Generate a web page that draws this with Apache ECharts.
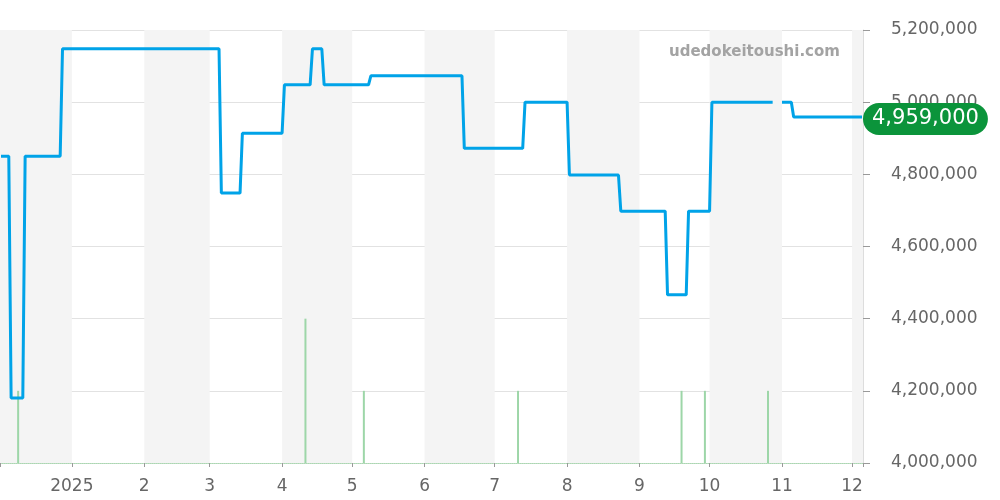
<!DOCTYPE html>
<html>
<head>
<meta charset="utf-8">
<script src="https://cdn.jsdelivr.net/npm/echarts@6/dist/echarts.min.js"></script>
<style>html,body{margin:0;padding:0;background:#fff;}#c{width:1000px;height:500px;}</style>
</head>
<body>
<div id="c"></div>
<script>
// Price line: change points [date, price]; '-' marks a gap in the data
const priceDates = [
  '2024-12-01 16:00:00','2024-12-05','2024-12-06','2024-12-11','2024-12-12','2024-12-27','2024-12-28',
  '2025-03-05','2025-03-06','2025-03-14','2025-03-15','2025-04-01','2025-04-02',
  '2025-04-13','2025-04-14','2025-04-18','2025-04-19','2025-05-08','2025-05-09',
  '2025-06-17','2025-06-18','2025-07-13','2025-07-14','2025-08-01','2025-08-02',
  '2025-08-23','2025-08-24','2025-09-12','2025-09-13','2025-09-21','2025-09-22',
  '2025-10-01','2025-10-02','2025-10-28','2025-10-30','2025-11-01','2025-11-05','2025-11-06','2025-12-05 06:00:00'
];
const priceValues = [
  4850000,4850000,4180000,4180000,4850000,4850000,5148000,
  5148000,4748000,4748000,4914000,4914000,5048000,
  5048000,5148000,5148000,5048000,5048000,5073000,
  5073000,4872000,4872000,5000000,5000000,4798000,
  4798000,4698000,4698000,4466000,4466000,4698000,
  4698000,5000000,5000000,'-',5000000,5000000,4959000,4959000
];
// Green bars (counts) at the bottom
const barDates = ['2024-12-09','2025-04-11','2025-05-06','2025-07-11','2025-09-19','2025-09-29','2025-10-26'];
const barCounts = [1,2,1,1,1,1,1];
const yTicks = [4000000,4200000,4400000,4600000,4800000,5000000,5200000];
const xMin = '2024-12-01 16:00:00';
const xMax = '2025-12-05 06:00:00';
const lastPrice = 4959000;
const watermark = 'udedokeitoushi.com';

const FONT = 'DejaVu Sans';
const chart = echarts.init(document.getElementById('c'), null, {renderer: 'canvas'});
const fmt = v => v.toLocaleString('en-US');

chart.setOption({
  animation: false,
  backgroundColor: '#fff',
  grid: {left: 0, right: 137, top: 30, bottom: 37, containLabel: false, outerBoundsMode: 'none'},
  xAxis: {
    type: 'time',
    min: xMin, max: xMax,
    splitNumber: 12,
    minInterval: 28 * 86400000,
    maxInterval: 31 * 86400000,
    axisLine: {show: true, lineStyle: {color: '#a9d8b0', type: 'dotted', width: 1}},
    axisTick: {show: true, length: 4, lineStyle: {color: '#999'}},
    axisLabel: {
      color: '#666', fontSize: 17, fontFamily: FONT, margin: 15,
      showMinLabel: true, showMaxLabel: true,
      formatter: function (val) {
        const d = new Date(val);
        if (d.getDate() !== 1 || d.getHours() !== 0) return '';
        return d.getMonth() === 0 ? String(d.getFullYear()) : String(d.getMonth() + 1);
      }
    },
    splitLine: {show: false},
    splitArea: {show: true, areaStyle: {color: ['#f4f4f4', 'rgba(255,255,255,0)']}}
  },
  yAxis: [{
    type: 'value',
    position: 'right',
    min: yTicks[0], max: yTicks[yTicks.length - 1], interval: 200000,
    axisLine: {show: true, lineStyle: {color: '#ddd'}},
    axisTick: {show: true, length: 7, lineStyle: {color: '#999'}},
    axisLabel: {color: '#666', fontSize: 17, fontFamily: FONT, margin: 28, padding: [3, 0, 0, 0], formatter: fmt},
    splitLine: {show: true, lineStyle: {color: '#e2e2e2'}}
  }, {
    type: 'value', min: 0, max: 6, show: false,
    axisLine: {show: false}, splitLine: {show: false}, axisLabel: {show: false}
  }],
  series: [{
    type: 'bar',
    yAxisIndex: 1,
    data: barDates.map((d, i) => [d, barCounts[i]]),
    barWidth: 2,
    itemStyle: {color: '#9dd6a8'},
    silent: true,
    z: 1
  }, {
    type: 'line',
    clip: false,
    data: priceDates.map((d, i) => [d, priceValues[i]]),
    showSymbol: false,
    connectNulls: false,
    lineStyle: {color: '#00a3e8', width: 3},
    itemStyle: {color: '#00a3e8'},
    z: 3,
    markLine: {
      silent: true,
      symbol: ['none', 'none'],
      lineStyle: {color: 'rgba(0,0,0,0)', width: 0, type: 'solid'},
      emphasis: {disabled: true},
      data: [{yAxis: lastPrice}],
      label: {
        show: true, position: 'end', distance: 0, offset: [0, 2],
        formatter: () => fmt(lastPrice),
        color: '#fff', fontSize: 21, fontFamily: FONT,
        backgroundColor: '#0b943b', borderRadius: 16,
        padding: [6, 9, 5, 9]
      }
    }
  }],
  graphic: [{
    type: 'text', left: 669, top: 45, z: 100,
    style: {text: watermark, fill: '#a3a3a3', font: 'bold 15px "DejaVu Sans"'}
  }]
});
</script>
</body>
</html>
